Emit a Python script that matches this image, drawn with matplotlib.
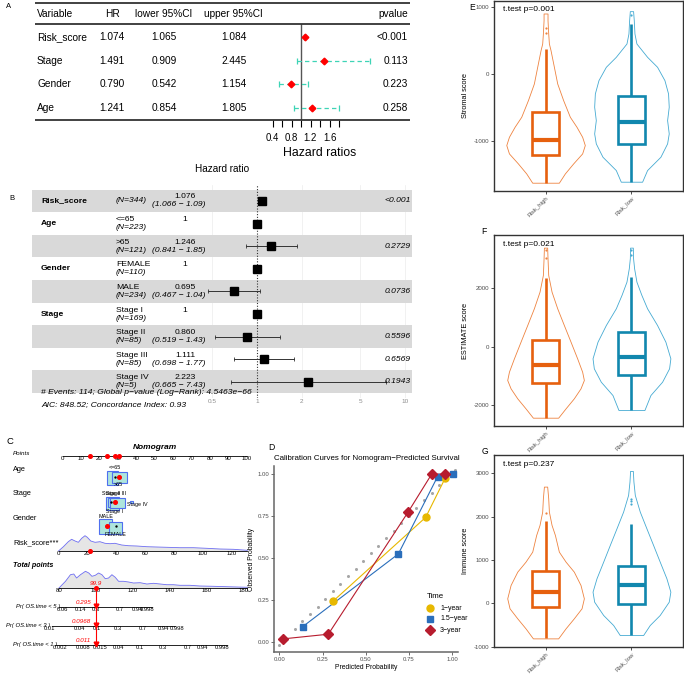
import numpy as np
import matplotlib
matplotlib.use('Agg')
import matplotlib.pyplot as plt
from matplotlib.patches import Rectangle

plt.rcParams['font.family'] = ['Liberation Sans', 'DejaVu Sans']

# ---------------- data ----------------
# Panel A : univariate table / forest
a_vars = ['Risk_score', 'Stage', 'Gender', 'Age']
a_hr = [1.074, 1.491, 0.790, 1.241]
a_lo = [1.065, 0.909, 0.542, 0.854]
a_hi = [1.084, 2.445, 1.154, 1.805]
a_p = ['<0.001', '0.113', '0.223', '0.258']
a_ticks = [0.4, 0.6, 0.8, 1.0, 1.2, 1.4, 1.6, 1.8]
a_ticklabels = ['0.4', '', '0.8', '', '1.2', '', '1.6', '']

# Panel B : multivariate forest (ggforest)
b_groups = ['Risk_score', 'Age', '', 'Gender', '', 'Stage', '', '', '']
b_levels = ['', '<=65', '>65', 'FEMALE', 'MALE', 'Stage I', 'Stage II', 'Stage III', 'Stage IV']
b_n = [344, 223, 121, 110, 234, 169, 85, 85, 5]
b_hr = [1.076, 1, 1.246, 1, 0.695, 1, 0.860, 1.111, 2.223]
b_lo = [1.066, None, 0.841, None, 0.467, None, 0.519, 0.698, 0.665]
b_hi = [1.09, None, 1.85, None, 1.04, None, 1.43, 1.77, 7.43]
b_p = ['<0.001', '', '0.2729', '', '0.0736', '', '0.5596', '0.6569', '0.1943']
b_ticks = [0.5, 1, 2, 5, 10]
b_note1 = '# Events: 114; Global p\u2212value (Log\u2212Rank): 4.5463e\u221266'
b_note2 = 'AIC: 848.52; Concordance Index: 0.93'

# Panel C : nomogram
c_points_ticks = list(range(0, 101, 10))
c_risk_ticks = [0, 20, 40, 60, 80, 100, 120]
c_total_ticks = [80, 100, 120, 140, 160, 180]
c_risk_x = [0, 3.4, 6.8, 9.1, 11.5, 13.8, 16.1, 18.4, 20.0, 22.4, 25.4, 28.8, 32.3, 35.8,
            39.2, 43.9, 48.5, 54.3, 61.3, 68.2, 75.2, 84.4, 93.7, 102.9, 112.2, 121.5, 131.2]
c_risk_h = [0, 4.3, 9.3, 11.7, 10, 8.7, 12.7, 15.3, 13.7, 10, 8.7, 9.3, 7.7, 7.3, 7.7, 6,
            5.3, 5, 4.3, 4, 3.7, 3.3, 3.3, 2.7, 2, 1.7, 0.7]
c_tot_x = [80, 83.5, 86.2, 88.0, 89.5, 91.6, 94.3, 96.1, 97.8, 99.6, 101.4, 103.2, 105.0, 106.8,
           108.6, 110.4, 112.2, 114.9, 117.6, 120.3, 123.9, 127.5, 131.1, 134.7, 138.2, 141.8,
           145.4, 150.8, 156.2, 163.4, 170.6, 181.8]
c_tot_h = [0, 6.7, 13.3, 14, 10, 13.3, 16.7, 15, 11.7, 12.7, 15, 13.3, 9.3, 10, 13.3, 10.7,
           6.7, 6.7, 6, 5, 5.3, 4, 4.7, 4, 3.3, 3.3, 2.7, 2.7, 2, 1.7, 1.3, 0.7]
c_age_levels = ['<=65', '>65']
c_age_pts = [26.9, 30.9]
c_stage_levels = ['Stage I', 'Stage II', 'Stage III', 'Stage IV']
c_stage_pts = [27.2, 27.3, 30.0, 37.5]
c_gender_levels = ['MALE', 'FEMALE']
c_gender_pts = [23.3, 28.6]
c_patient_risk = 22
c_patient_pts = {'Age': 30.4, 'Stage': 28.6, 'Gender': 24.0}
c_patient_total = 99.9
c_p5_labels = ['0.06', '0.14', '0.3', '0.7', '0.94', '0.998']
c_p5_tot = [81.6, 91.4, 100.0, 113.0, 122.2, 127.6]
c_p3_labels = ['0.01', '0.04', '0.1', '0.3', '0.7', '0.94', '0.998']
c_p3_tot = [75.1, 90.8, 100.5, 111.9, 125.4, 136.2, 143.8]
c_p1_labels = ['0.002', '0.008', '0.015', '0.04', '0.1', '0.3', '0.7', '0.94', '0.998']
c_p1_tot = [80.5, 93.0, 102.2, 111.9, 123.8, 136.2, 149.7, 157.8, 168.1]
c_pred = ['0.295', '0.0968', '0.011']

# Panel D : calibration
d_ref_x = [0.0, 0.09, 0.133, 0.177, 0.222, 0.266, 0.31, 0.353, 0.397, 0.442, 0.486, 0.53,
           0.573, 0.617, 0.661, 0.705, 0.749, 0.793, 0.837, 0.881, 0.925, 0.969, 1.013]
d_ref_y = [-0.018, 0.076, 0.125, 0.165, 0.21, 0.256, 0.302, 0.347, 0.391, 0.436, 0.482, 0.528,
           0.573, 0.618, 0.663, 0.708, 0.753, 0.798, 0.843, 0.888, 0.933, 0.978, 1.024]
d_1y_x = [0.312, 0.846, 0.96]
d_1y_y = [0.244, 0.742, 0.978]
d_15_x = [0.135, 0.688, 0.915, 1.006]
d_15_y = [0.091, 0.524, 0.985, 1.0]
d_3y_x = [0.02, 0.283, 0.746, 0.881, 0.958]
d_3y_y = [0.018, 0.046, 0.776, 1.0, 1.0]
d_ticks = [0.0, 0.25, 0.5, 0.75, 1.0]
d_ticklabels = ['0.00', '0.25', '0.50', '0.75', '1.00']

# Panels E/F/G : violin + box
groups = ['Risk_high', 'Risk_low']
e_high_v = [907, 807, 608, 458, 359, 110, -140, -389, -638, -787, -937, -1061, -1186, -1335, -1485, -1624]
e_high_w = [0.023, 0.023, 0.031, 0.039, 0.058, 0.097, 0.136, 0.205, 0.283, 0.36, 0.426, 0.457, 0.426, 0.322, 0.225, 0.155]
e_low_v = [942, 807, 608, 458, 259, 110, -90, -289, -488, -688, -887, -1036, -1236, -1435, -1609]
e_low_w = [0.019, 0.027, 0.035, 0.058, 0.182, 0.298, 0.384, 0.426, 0.434, 0.415, 0.434, 0.415, 0.337, 0.182, 0.124]
e_high_box = [-1626, -1213, -988, -573, 370]
e_low_box = [-1612, -1048, -714, -329, 749]
e_high_out = [609, 684]
e_low_out = [880]

f_high_v = [3397, 3032, 2462, 1892, 1322, 752, 182, -388, -844, -1129, -1414, -1756, -2098, -2417]
f_high_w = [0.019, 0.023, 0.031, 0.07, 0.136, 0.213, 0.291, 0.368, 0.426, 0.446, 0.407, 0.329, 0.233, 0.147]
f_low_v = [3397, 3032, 2690, 2234, 1778, 1322, 752, 182, -388, -730, -1186, -1642, -2155]
f_low_w = [0.016, 0.019, 0.031, 0.058, 0.116, 0.182, 0.298, 0.395, 0.453, 0.438, 0.357, 0.221, 0.151]
f_high_box = [-2417, -1242, -615, 239, 2348]
f_low_box = [-2155, -958, -331, 502, 2405]
f_high_out = [3032, 3300]
f_low_out = [3150, 3300]

g_high_v = [2692, 2423, 2115, 1808, 1577, 1192, 962, 731, 423, 115, -115, -346, -577, -808]
g_high_w = [0.019, 0.031, 0.039, 0.07, 0.109, 0.155, 0.233, 0.329, 0.407, 0.446, 0.419, 0.329, 0.233, 0.147]
g_low_v = [3054, 2808, 2500, 2115, 1731, 1346, 962, 577, 269, 38, -269, -500, -731]
g_low_w = [0.016, 0.023, 0.039, 0.097, 0.174, 0.252, 0.329, 0.407, 0.453, 0.434, 0.329, 0.213, 0.136]
g_high_box = [-808, -77, 269, 754, 1900]
g_low_box = [-731, -23, 423, 869, 1831]
g_high_out = [2092]
g_low_out = [2280, 2350, 2400]

# ---------------- figure ----------------
W, H = 684, 674
fig = plt.figure(figsize=(W / 100, H / 100), dpi=100)


def px_axes(x0, y0, x1, y1):
    ax = fig.add_axes([x0 / W, 1 - y1 / H, (x1 - x0) / W, (y1 - y0) / H])
    ax.patch.set_alpha(0)
    return ax


ov = px_axes(0, 0, W, H)
ov.set_xlim(0, W)
ov.set_ylim(H, 0)
ov.axis('off')

# ---------- Panel A ----------
ov.text(9, 7, 'A', fontsize=5.5, ha='center', va='center')
for yy in (2.5, 24, 120):
    ov.plot([35, 410], [yy, yy], color='#333333', lw=1.3, solid_capstyle='butt')
fsA = 7.3
ov.text(37, 14, 'Variable', ha='left', va='center', fontsize=fsA)
ov.text(113, 14, 'HR', ha='center', va='center', fontsize=fsA)
ov.text(164, 14, 'lower 95%CI', ha='center', va='center', fontsize=fsA)
ov.text(233, 14, 'upper 95%CI', ha='center', va='center', fontsize=fsA)
ov.text(408, 14, 'pvalue', ha='right', va='center', fontsize=fsA)
for i, v in enumerate(a_vars):
    yy = 37 + 23.7 * i
    ov.text(37, yy, v, ha='left', va='center', fontsize=fsA)
    ov.text(112, yy, f'{a_hr[i]:.3f}', ha='center', va='center', fontsize=fsA)
    ov.text(164, yy, f'{a_lo[i]:.3f}', ha='center', va='center', fontsize=fsA)
    ov.text(234, yy, f'{a_hi[i]:.3f}', ha='center', va='center', fontsize=fsA)
    ov.text(408, yy, a_p[i], ha='right', va='center', fontsize=fsA)

afx = px_axes(267.75, 24, 372.25, 120)
afx.set_xlim(0.3, 2.5)
afx.set_ylim(3.5, -0.55)
for s in afx.spines.values():
    s.set_visible(False)
rows = np.arange(len(a_vars))
afx.axvline(1, color='#555555', lw=1.0)
ci_col = '#3ED4B6'
afx.hlines(rows, a_lo, a_hi, colors=ci_col, linestyles=(0, (3.5, 2.5)), lw=0.9)
afx.plot(a_lo, rows, '|', color=ci_col, ms=4, mew=0.9)
afx.plot(a_hi, rows, '|', color=ci_col, ms=4, mew=0.9)
afx.plot(a_hr, rows, 'D', color='red', ms=3.4, zorder=5)
afx.set_xticks(a_ticks)
afx.set_xticklabels(a_ticklabels, fontsize=6.9)
afx.set_yticks([])
afx.tick_params(axis='x', length=5, width=0.8, pad=4.5, direction='out')
afx.set_xlabel('Hazard ratios', fontsize=8.8, labelpad=2.5)

# ---------- Panel B ----------
ov.text(12, 198, 'B', fontsize=5.5, ha='center', va='center')
ov.text(222, 169, 'Hazard ratio', fontsize=7.2, ha='center', va='center')
axb = px_axes(32, 185, 412, 398)
axb.set_xscale('log')
axb.set_xlim(10 ** ((32 - 257) / 148), 10 ** ((412 - 257) / 148))
axb.set_ylim(8.717, -0.708)
for s in axb.spines.values():
    s.set_visible(False)
for t in b_ticks:
    if t != 1:
        axb.axvline(t, color='#EBEBEB', lw=0.5, zorder=0)
for i in range(0, len(b_levels), 2):
    axb.axhspan(i - 0.5, i + 0.5, color='#D9D9D9', lw=0, zorder=0.5)
axb.axvline(1, color='#333333', lw=0.8, ls=(0, (1, 1.5)), zorder=1)
for i in range(len(b_levels)):
    if b_lo[i] is not None:
        axb.plot([b_lo[i], b_hi[i]], [i, i], color='#333333', lw=0.7, zorder=2)
        axb.plot([b_lo[i], b_hi[i]], [i, i], '|', color='#333333', ms=2.5, mew=0.6, zorder=2)
axb.plot(b_hr, range(len(b_hr)), 's', color='black', ms=6.3, zorder=3)
axb.set_xticks(b_ticks)
axb.set_xticklabels([str(t) for t in b_ticks], fontsize=4.6, color='#8C8C8C')
axb.xaxis.set_minor_locator(matplotlib.ticker.NullLocator())
axb.tick_params(axis='x', length=0, pad=1)
axb.set_yticks([])
fsB = 6.1
for i in range(len(b_levels)):
    yc = 201 + 22.6 * i
    if b_groups[i]:
        ov.text(41, yc, b_groups[i], fontsize=fsB, fontweight='bold', ha='left', va='center')
    hr_txt = '1' if b_lo[i] is None else f'{b_hr[i]:.3f}'
    if b_levels[i]:
        ov.text(116, yc - 4, b_levels[i], fontsize=fsB, ha='left', va='center')
        ov.text(116, yc + 4, f'(N={b_n[i]})', fontsize=fsB, style='italic', ha='left', va='center')
    else:
        ov.text(116, yc, f'(N={b_n[i]})', fontsize=fsB, style='italic', ha='left', va='center')
    ov.text(185, yc - 4, hr_txt, fontsize=fsB, ha='center', va='center')
    if b_lo[i] is not None:
        ov.text(179, yc + 4, f'({b_lo[i]} \u2212 {b_hi[i]})', fontsize=fsB, style='italic',
                ha='center', va='center')
    if b_p[i]:
        ov.text(411, yc, b_p[i], fontsize=fsB, style='italic', ha='right', va='center')
ov.text(41, 392.5, b_note1, fontsize=6.1, style='italic', ha='left', va='center')
ov.text(41, 405, b_note2, fontsize=6.1, style='italic', ha='left', va='center')

# ---------- Panel C : nomogram ----------
ov.text(10, 441, 'C', fontsize=6.8, ha='center', va='center')
axc = px_axes(0, 425, 250, 674)
PX0, PXU = 62.5, 1.843
axc.set_xlim((0 - PX0) / PXU, (250 - PX0) / PXU)
axc.set_ylim(674, 425)
axc.axis('off')


def r2p(r):
    return (58.5 + 1.44 * np.asarray(r, float) - PX0) / PXU


def t2p(t):
    return (59 + 1.85 * (np.asarray(t, float) - 80) - PX0) / PXU


def lx(px):
    return (px - PX0) / PXU


fsC = 4.4
axc.text(lx(155), 448, 'Nomogram', fontsize=6, fontweight='bold', style='italic', ha='center', va='center')
axc.text(lx(13), 454, 'Points', fontsize=4.5, style='italic', ha='left', va='center')
for name, yy in [('Age', 470), ('Stage', 494), ('Gender', 519), ('Risk_score***', 543)]:
    axc.text(lx(13), yy, name, fontsize=5.3, ha='left', va='center')
axc.text(lx(13), 566, 'Total points', fontsize=5.1, fontweight='bold', style='italic', ha='left', va='center')

# points axis
axc.plot([0, 100], [456, 456], color='black', lw=0.6)
for t in c_points_ticks:
    axc.text(t, 458.8, str(t), fontsize=fsC, ha='center', va='center')
pp = [float(r2p(c_patient_risk)), c_patient_pts['Gender'], c_patient_pts['Stage'], c_patient_pts['Age']]
axc.plot(pp, [456] * 4, 'o', color='red', ms=2.6, zorder=5)

box_face, box_edge = '#AEE5DC', '#4F6FEF'


def cbox(xc, w, y0, y1):
    axc.add_patch(Rectangle((xc - w / 2, y0), w, y1 - y0, facecolor=box_face,
                            edgecolor=box_edge, lw=0.8, zorder=2))


# Age
cbox(c_age_pts[0], 6.0, 471, 485)
cbox(c_age_pts[1], 8.1, 472, 483)
axc.text(c_age_pts[0] + 1.3, 467.5, c_age_levels[0], fontsize=3.9, ha='center', va='center')
axc.text(c_age_pts[1] - 0.5, 485, c_age_levels[1], fontsize=3.9, ha='center', va='center')
axc.plot([lx(115)], [476.7], 'o', color='black', ms=0.7, zorder=4)
axc.plot([c_patient_pts['Age']], [476.7], 'o', color='red', ms=2.6, zorder=5)
# Stage
cbox(c_stage_pts[0], 7.2, 496.7, 510)
cbox(c_stage_pts[1], 5.4, 498, 507.5)
cbox(c_stage_pts[2], 8.1, 497.7, 508.3)
cbox(c_stage_pts[3], 1.4, 501, 502.6)
axc.text(c_stage_pts[1] - 1.0, 493.5, c_stage_levels[1], fontsize=3.9, ha='center', va='center')
axc.text(c_stage_pts[2] - 1.0, 493.5, c_stage_levels[2], fontsize=3.9, ha='center', va='center')
axc.text(c_stage_pts[0] + 1.0, 511.5, c_stage_levels[0], fontsize=3.9, ha='center', va='center')
axc.text(c_stage_pts[3] - 2.5, 505, c_stage_levels[3], fontsize=3.9, ha='left', va='center')
axc.plot([lx(110.7)], [501.7], 'o', color='black', ms=0.7, zorder=4)
axc.plot([c_patient_pts['Stage']], [501.7], 'o', color='red', ms=2.6, zorder=5)
# Gender
cbox(c_gender_pts[0], 6.7, 519, 534)
cbox(c_gender_pts[1], 6.9, 521.7, 534)
axc.text(c_gender_pts[0], 516.5, c_gender_levels[0], fontsize=3.9, ha='center', va='center')
axc.text(c_gender_pts[1] + 0.3, 534.5, c_gender_levels[1], fontsize=3.9, ha='center', va='center')
axc.plot([lx(115.7)], [526], 'o', color='black', ms=0.7, zorder=4)
axc.plot([c_patient_pts['Gender']], [526], 'o', color='red', ms=2.6, zorder=5)

dens_fill, dens_line = '#E6E6E6', '#6E6EF2'
# Risk score density axis
rb = 551
rx = r2p(c_risk_x)
axc.fill_between(rx, rb, rb - np.array(c_risk_h), facecolor=dens_fill, edgecolor='none', zorder=1)
axc.plot(rx, rb - np.array(c_risk_h), color=dens_line, lw=0.6, zorder=2)
axc.plot([r2p(0), r2p(131.2)], [rb, rb], color='black', lw=0.6, zorder=3)
for t in c_risk_ticks:
    axc.text(float(r2p(t)), rb + 2.6, str(t), fontsize=fsC, ha='center', va='center')
axc.plot([float(r2p(c_patient_risk))], [rb], 'o', color='red', ms=2.6, zorder=5)

# Total points density axis
tb = 588
tx = t2p(c_tot_x)
axc.fill_between(tx, tb, tb - np.array(c_tot_h), facecolor=dens_fill, edgecolor='none', zorder=1)
axc.plot(tx, tb - np.array(c_tot_h), color=dens_line, lw=0.6, zorder=2)
axc.plot([t2p(80), t2p(181.8)], [tb, tb], color='black', lw=0.6, zorder=3)
for t in c_total_ticks:
    axc.text(float(t2p(t)), tb + 2.6, str(t), fontsize=fsC, ha='center', va='center')
ptx = float(t2p(c_patient_total))
axc.plot([ptx], [tb], 'o', color='red', ms=2.6, zorder=5)
axc.text(ptx, 584, f'{c_patient_total}', fontsize=4.6, color='red', style='italic', ha='center', va='center', zorder=6)

# probability axes
prob_rows = [
    ('Pr( OS.time < 5 )', 607, c_p5_labels, c_p5_tot, (80, 130), 60),
    ('Pr( OS.time < 3 )', 626, c_p3_labels, c_p3_tot, (76.2, 142.7), 50.5),
    ('Pr( OS.time < 1 )', 645, c_p1_labels, c_p1_tot, (77.8, 170.8), 57),
]
for k, (lab, yy, labs, tots, rng, lend) in enumerate(prob_rows):
    axc.plot([t2p(rng[0]), t2p(rng[1])], [yy, yy], color='black', lw=0.6, zorder=3)
    for lb, tt in zip(labs, tots):
        axc.text(float(t2p(tt)), yy + 2.2, lb, fontsize=4.2, ha='center', va='center', zorder=4)
    axc.text(lx(lend), yy, lab, fontsize=4.2, style='italic', ha='right', va='center')
    axc.text(ptx - 2.5, yy - 4.8, c_pred[k], fontsize=4.5, color='red', style='italic',
             ha='right', va='center')
    axc.plot([ptx], [yy - 1], 'v', color='red', ms=3.4, zorder=6)
axc.plot([ptx, ptx], [tb, 645], color='red', lw=0.8, zorder=5)

# ---------- Panel D : calibration ----------
ov.text(271, 448, 'D', fontsize=6.2, ha='center', va='center')
ov.text(274, 458, 'Calibration Curves for Nomogram\u2212Predicted Survival', fontsize=5.7,
        ha='left', va='center')
axd = px_axes(274, 466, 458, 652)
axd.set_xlim(-0.031, 1.033)
axd.set_ylim(-0.06, 1.048)
for s in ['top', 'right']:
    axd.spines[s].set_visible(False)
for s in ['left', 'bottom']:
    axd.spines[s].set_color('#666666')
    axd.spines[s].set_linewidth(1.1)
axd.set_xticks(d_ticks)
axd.set_xticklabels(d_ticklabels)
axd.set_yticks(d_ticks)
axd.set_yticklabels(d_ticklabels)
axd.tick_params(labelsize=4.3, labelcolor='#4D4D4D', length=2, width=0.6, color='#555555', pad=1.5)
axd.set_xlabel('Predicted Probability', fontsize=4.9, labelpad=1.5)
axd.set_ylabel('Observed Probability', fontsize=4.9, labelpad=2)
c1, c15, c3 = '#E7B800', '#2A6EBB', '#B71C2E'
axd.plot(d_ref_x, d_ref_y, 'o', color='#A6A6A6', ms=2.2, mew=0, zorder=1)
axd.plot(d_1y_x, d_1y_y, '-', color=c1, lw=0.8, zorder=2)
axd.plot(d_1y_x, d_1y_y, 'o', color=c1, ms=5.0, zorder=3)
axd.plot(d_15_x, d_15_y, '-', color=c15, lw=0.8, zorder=2)
axd.plot(d_15_x, d_15_y, 's', color=c15, ms=4.4, zorder=3)
axd.plot(d_3y_x, d_3y_y, '-', color=c3, lw=0.8, zorder=2)
axd.plot(d_3y_x, d_3y_y, 'D', color=c3, ms=4.6, zorder=3)
ov.text(427, 596, 'Time', fontsize=5.7, ha='left', va='center')
for yy, mk, col, ms, lab in [(608, 'o', c1, 5.0, '1\u2212year'), (619, 's', c15, 4.4, '1.5\u2212year'),
                            (630, 'D', c3, 4.6, '3\u2212year')]:
    ov.plot([430], [yy], mk, color=col, ms=ms)
    ov.text(440, yy, lab, fontsize=5.0, ha='left', va='center')

# ---------- Panels E / F / G ----------
col_hi_box, col_lo_box = '#E6600E', '#1187AE'
col_hi_vio, col_lo_vio = '#EE8340', '#45AAD2'
BOXW = 0.31


def score_panel(ax, ylim, yticks, ylabel, hv, hw, lv, lw_, hbox, lbox, hout, lout):
    ax.set_xlim(0.4, 2.6)
    ax.set_ylim(*ylim)
    ax.patch.set_alpha(1)
    ax.patch.set_facecolor('white')
    for pos, vals, wid, box, outs, cb, cv in [(1, hv, hw, hbox, hout, col_hi_box, col_hi_vio),
                                            (2, lv, lw_, lbox, lout, col_lo_box, col_lo_vio)]:
        wid = np.array(wid)
        ax.fill_betweenx(vals, pos - wid, pos + wid, facecolor='white', edgecolor=cv, lw=0.6, zorder=1)
        wl, q1, med, q3, wh = box
        ax.plot([pos, pos], [wl, q1], color=cb, lw=1.9, zorder=2, solid_capstyle='butt')
        ax.plot([pos, pos], [q3, wh], color=cb, lw=1.9, zorder=2, solid_capstyle='butt')
        ax.add_patch(Rectangle((pos - BOXW / 2, q1), BOXW, q3 - q1, facecolor='white',
                               edgecolor=cb, lw=1.9, zorder=3))
        ax.plot([pos - BOXW / 2, pos + BOXW / 2], [med, med], color=cb, lw=3.0, zorder=4,
                solid_capstyle='butt')
        ax.plot([pos] * len(outs), outs, 'o', color=cv, ms=1.6, mew=0, zorder=4)
    ax.set_xticks([1, 2])
    ax.set_xticklabels(groups, rotation=45, ha='right', rotation_mode='anchor')
    ax.set_yticks(yticks)
    ax.set_yticklabels([str(t) for t in yticks])
    ax.tick_params(labelsize=4.4, labelcolor='#4D4D4D', length=2, width=0.6, color='#333333', pad=1.5)
    ax.set_ylabel(ylabel, fontsize=5.3, labelpad=3)
    for s in ax.spines.values():
        s.set_color('#333333')
        s.set_linewidth(1.0)


axe = px_axes(494, 1, 683, 191)
score_panel(axe, (-1748, 1094), [-1000, 0, 1000], 'Stromal score', e_high_v, e_high_w, e_low_v, e_low_w,
            e_high_box, e_low_box, e_high_out, e_low_out)
axf = px_axes(494, 235, 683, 426)
score_panel(axf, (-2701, 3829), [-2000, 0, 2000], 'ESTIMATE score', f_high_v, f_high_w, f_low_v, f_low_w,
            f_high_box, f_low_box, f_high_out, f_low_out)
axg = px_axes(494, 455, 683, 646.7)
score_panel(axg, (-1000, 3421), [-1000, 0, 1000, 2000, 3000], 'Immune score', g_high_v, g_high_w,
            g_low_v, g_low_w, g_high_box, g_low_box, g_high_out, g_low_out)
ov.text(472, 8, 'E', fontsize=6.2, ha='center', va='center')
ov.text(484, 231, 'F', fontsize=6.2, ha='center', va='center')
ov.text(485, 452, 'G', fontsize=6.2, ha='center', va='center')
ov.text(503, 9.5, 't.test p=0.001', fontsize=6.0, ha='left', va='center', zorder=10)
ov.text(503, 244.5, 't.test p=0.021', fontsize=6.0, ha='left', va='center', zorder=10)
ov.text(503, 464.5, 't.test p=0.237', fontsize=6.0, ha='left', va='center', zorder=10)
ov.set_zorder(10)

fig.savefig('out.png', dpi=100)
